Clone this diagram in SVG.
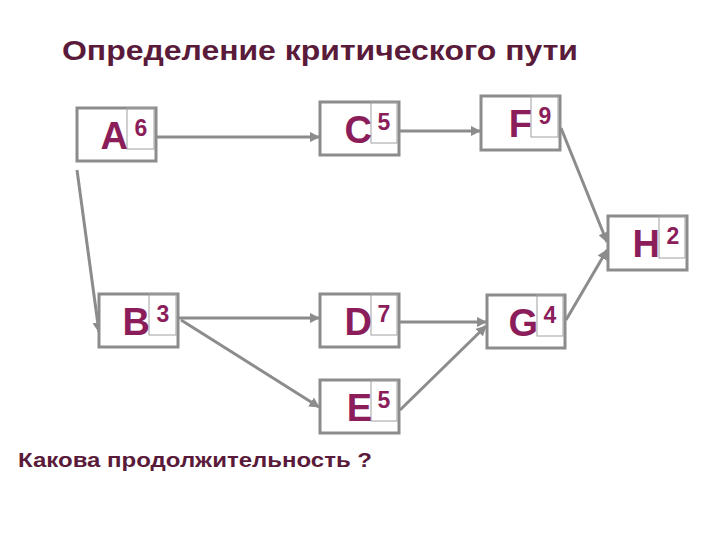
<svg xmlns="http://www.w3.org/2000/svg" width="720" height="540" viewBox="0 0 720 540">
<defs>
<style>
.box{fill:#fff;stroke:#8c8c8c;stroke-width:3}
.in{fill:none;stroke:#a0a0a0;stroke-width:1}
.L{font-family:"Liberation Sans",Arial,sans-serif;font-weight:bold;font-size:38px;fill:#8b1e5a;text-anchor:end}
.n{font-family:"Liberation Sans",Arial,sans-serif;font-weight:bold;font-size:23px;fill:#8b1e5a;text-anchor:middle}
.c line{stroke:#8c8c8c;stroke-width:3;marker-end:url(#ah)}
.t{font-family:"Liberation Sans",Arial,sans-serif;font-weight:bold;fill:#5a1a3a}
</style>
<marker id="ah" viewBox="0 0 10 10" refX="9" refY="5" markerWidth="3.5" markerHeight="3.5" orient="auto"><path d="M0,0 L10,5 L0,10 Z" fill="#8c8c8c"/></marker>
</defs>
<rect width="720" height="540" fill="#fff"/>
<text class="t" x="62" y="60" font-size="27" textLength="516" lengthAdjust="spacingAndGlyphs">Определение критического пути</text>
<text class="t" x="18" y="467" font-size="21" textLength="354" lengthAdjust="spacingAndGlyphs">Какова продолжительность ?</text>
<g class="c">
<line x1="157" y1="137" x2="319" y2="137"/>
<line x1="77" y1="170" x2="99" y2="332"/>
<line x1="179" y1="318" x2="319" y2="318"/>
<line x1="181" y1="320" x2="319" y2="407"/>
<line x1="400" y1="131" x2="480" y2="131"/>
<line x1="400" y1="322" x2="486" y2="322"/>
<line x1="400" y1="410" x2="486" y2="326"/>
<line x1="561" y1="128" x2="607" y2="242"/>
<line x1="566" y1="320" x2="607" y2="250"/>
</g>
<g id="A"><rect class="box" x="77" y="108" width="79" height="53"/><rect class="in" x="127" y="108" width="27" height="41"/><text class="L" x="128" y="149">A</text><text class="n" x="141" y="136">6</text></g>
<g id="C"><rect class="box" x="320" y="102" width="79" height="53"/><rect class="in" x="371" y="102" width="26" height="41"/><text class="L" x="372" y="143">C</text><text class="n" x="384" y="130">5</text></g>
<g id="F"><rect class="box" x="481" y="96" width="79" height="54"/><rect class="in" x="531" y="96" width="27" height="41"/><text class="L" x="532" y="137">F</text><text class="n" x="545" y="124">9</text></g>
<g id="H"><rect class="box" x="608" y="216" width="79" height="54"/><rect class="in" x="659" y="216" width="26" height="42"/><text class="L" x="660" y="257">H</text><text class="n" x="673" y="244">2</text></g>
<g id="B"><rect class="box" x="99" y="294" width="79" height="53"/><rect class="in" x="149" y="294" width="27" height="41"/><text class="L" x="150" y="335">B</text><text class="n" x="163" y="322">3</text></g>
<g id="D"><rect class="box" x="320" y="294" width="79" height="53"/><rect class="in" x="371" y="294" width="26" height="41"/><text class="L" x="372" y="335">D</text><text class="n" x="384" y="322">7</text></g>
<g id="G"><rect class="box" x="487" y="295" width="78" height="53"/><rect class="in" x="537" y="295" width="26" height="41"/><text class="L" x="538" y="336">G</text><text class="n" x="550" y="323">4</text></g>
<g id="E"><rect class="box" x="320" y="380" width="79" height="53"/><rect class="in" x="371" y="380" width="26" height="41"/><text class="L" x="372" y="421">E</text><text class="n" x="384" y="408">5</text></g>
</svg>
